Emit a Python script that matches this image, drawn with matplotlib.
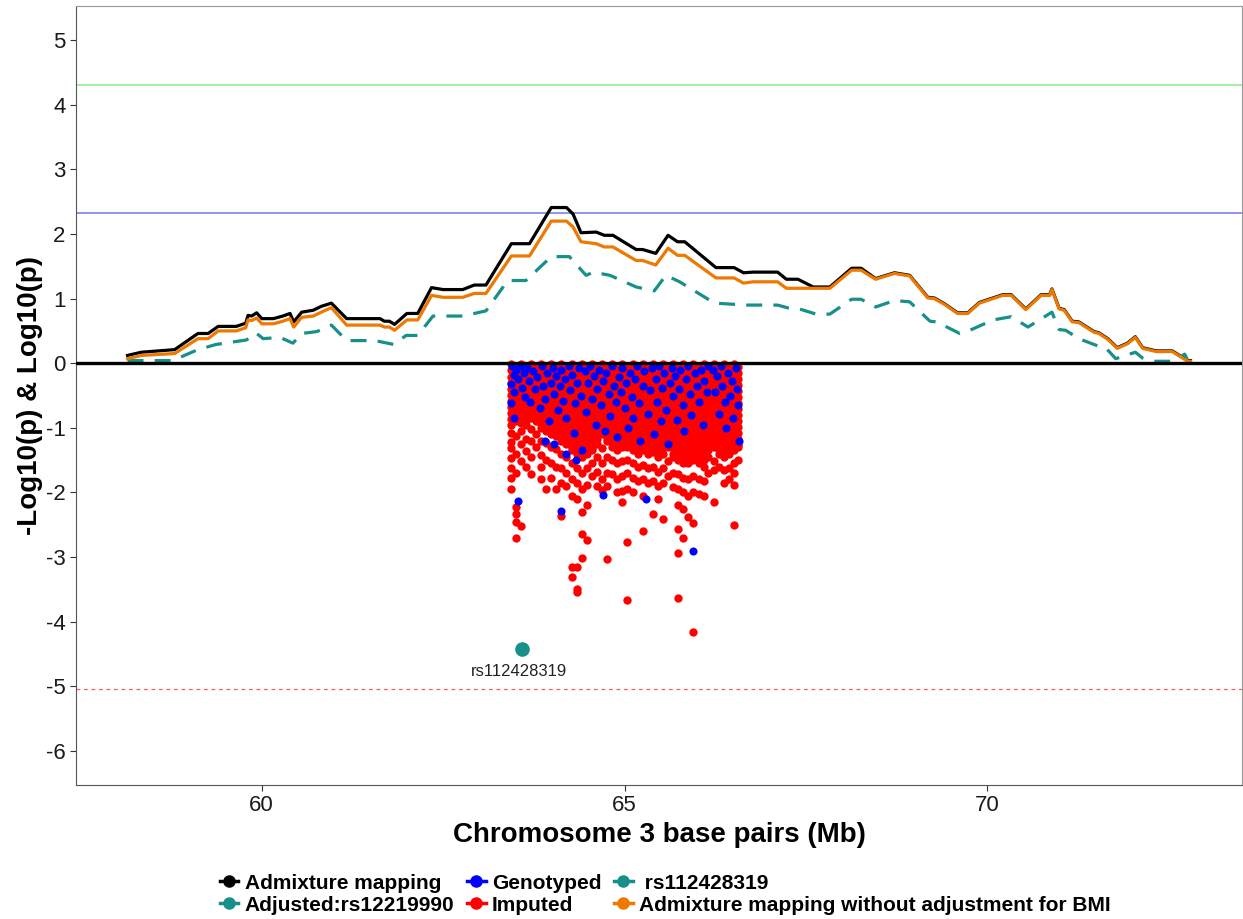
import matplotlib
matplotlib.use("Agg")
import matplotlib.pyplot as plt
from matplotlib.lines import Line2D

plt.rcParams['font.family'] = ['Liberation Sans', 'DejaVu Sans']
plt.rcParams['axes.unicode_minus'] = False

# admixture mapping curves (Mb, -log10 p)
adm_x = [58.15, 58.34, 58.80, 59.12, 59.26, 59.40, 59.65, 59.78, 59.81, 59.86, 59.93, 60.00,
         60.16, 60.29, 60.39, 60.44, 60.55, 60.71, 60.82, 60.96, 61.17, 61.63, 61.69, 61.76,
         61.83, 62.00, 62.15, 62.34, 62.50, 62.77, 62.93, 63.09, 63.44, 63.69, 63.99, 64.20,
         64.29, 64.40, 64.61, 64.72, 64.84, 65.16, 65.25, 65.43, 65.60, 65.73, 65.83, 66.26,
         66.51, 66.64, 66.77, 67.11, 67.23, 67.39, 67.60, 67.83, 68.13, 68.26, 68.46, 68.72,
         68.93, 69.18, 69.27, 69.41, 69.59, 69.73, 69.89, 70.21, 70.33, 70.53, 70.74, 70.86,
         70.89, 70.99, 71.06, 71.17, 71.26, 71.47, 71.54, 71.66, 71.79, 71.93, 72.04, 72.14,
         72.33, 72.55, 72.76, 72.80]
adm_y = [0.12, 0.17, 0.21, 0.46, 0.46, 0.57, 0.57, 0.62, 0.74, 0.73, 0.78, 0.69,
         0.69, 0.73, 0.77, 0.64, 0.79, 0.82, 0.88, 0.93, 0.69, 0.69, 0.65, 0.65,
         0.60, 0.77, 0.77, 1.17, 1.14, 1.14, 1.21, 1.21, 1.85, 1.85, 2.41, 2.41,
         2.31, 2.02, 2.03, 1.98, 1.98, 1.76, 1.76, 1.70, 1.98, 1.88, 1.88, 1.48,
         1.48, 1.40, 1.41, 1.41, 1.30, 1.30, 1.18, 1.18, 1.47, 1.47, 1.31, 1.40,
         1.36, 1.02, 1.01, 0.92, 0.78, 0.78, 0.94, 1.06, 1.06, 0.84, 1.06, 1.06,
         1.15, 0.85, 0.83, 0.65, 0.64, 0.49, 0.47, 0.38, 0.24, 0.31, 0.41, 0.24,
         0.19, 0.19, 0.04, 0.04]
nobmi_y = [0.07, 0.12, 0.15, 0.38, 0.38, 0.50, 0.50, 0.55, 0.67, 0.66, 0.70, 0.61,
           0.61, 0.65, 0.69, 0.56, 0.71, 0.73, 0.79, 0.86, 0.59, 0.59, 0.56, 0.56,
           0.51, 0.67, 0.67, 1.05, 1.02, 1.02, 1.08, 1.08, 1.66, 1.66, 2.20, 2.20,
           2.11, 1.88, 1.85, 1.80, 1.80, 1.59, 1.59, 1.52, 1.78, 1.67, 1.67, 1.32,
           1.32, 1.24, 1.26, 1.26, 1.16, 1.16, 1.16, 1.16, 1.44, 1.44, 1.30, 1.39,
           1.35, 1.01, 1.00, 0.91, 0.77, 0.77, 0.93, 1.05, 1.05, 0.83, 1.05, 1.05,
           1.14, 0.84, 0.82, 0.64, 0.63, 0.48, 0.46, 0.37, 0.23, 0.30, 0.40, 0.23,
           0.18, 0.18, 0.03, 0.03]

adj_x = [58.15, 58.77, 59.12, 59.37, 59.79, 59.92, 60.02, 60.25, 60.43, 60.55, 60.76, 60.96,
         61.17, 61.56, 61.82, 61.99, 62.15, 62.36, 62.77, 63.09, 63.39, 63.64, 63.99, 64.24,
         64.47, 64.57, 64.80, 65.16, 65.41, 65.57, 65.76, 66.24, 66.68, 67.11, 67.27, 67.41,
         67.64, 67.83, 68.13, 68.26, 68.46, 68.72, 68.93, 69.21, 69.30, 69.62, 69.76, 70.08,
         70.33, 70.56, 70.89, 70.99, 71.08, 71.26, 71.54, 71.63, 71.77, 71.88, 72.04, 72.14,
         72.30, 72.55, 72.72, 72.76]
adj_y = [0.04, 0.04, 0.21, 0.29, 0.36, 0.47, 0.38, 0.40, 0.31, 0.46, 0.49, 0.59,
         0.35, 0.35, 0.29, 0.43, 0.43, 0.73, 0.73, 0.81, 1.28, 1.28, 1.65, 1.65,
         1.36, 1.41, 1.36, 1.18, 1.12, 1.36, 1.26, 0.93, 0.90, 0.90, 0.85, 0.84,
         0.76, 0.76, 0.99, 0.99, 0.87, 0.97, 0.95, 0.65, 0.64, 0.46, 0.51, 0.67,
         0.72, 0.56, 0.79, 0.52, 0.51, 0.38, 0.26, 0.24, 0.07, 0.11, 0.17, 0.08,
         0.03, 0.03, 0.14, 0.05]

# imputed SNPs (log10 p), grouped by position column
imp_x = [63.44, 63.50, 63.57, 63.64, 63.71, 63.78, 63.85, 63.92, 63.99, 64.06, 64.13, 64.20,
         64.27, 64.34, 64.41, 64.48, 64.55, 64.62, 64.69, 64.76, 64.83, 64.90, 64.97, 65.04,
         65.11, 65.18, 65.25, 65.32, 65.39, 65.46, 65.53, 65.60, 65.67, 65.74, 65.81, 65.88,
         65.95, 66.02, 66.09, 66.15, 66.23, 66.30, 66.37, 66.44, 66.51, 66.57]
imp_y = [
    [-0.02, -0.11, -0.21, -0.30, -0.40, -0.49, -0.58, -0.68, -0.77, -0.87, -0.95, -1.08, -1.22, -1.31, -1.47, -1.63, -1.78, -1.94],
    [-0.06, -0.15, -0.25, -0.34, -0.44, -0.53, -0.62, -0.72, -0.81, -0.90, -1.12, -1.40, -1.70, -2.22, -2.34, -2.46, -2.70],
    [-0.01, -0.10, -0.20, -0.29, -0.39, -0.48, -0.57, -0.67, -0.76, -0.85, -0.92, -1.05, -1.25, -1.52, -2.52],
    [-0.05, -0.14, -0.24, -0.33, -0.43, -0.52, -0.61, -0.71, -0.80, -0.89, -0.96, -1.18, -1.36, -1.60],
    [-0.02, -0.11, -0.21, -0.30, -0.39, -0.49, -0.58, -0.67, -0.77, -0.85, -1.02, -1.21, -1.45, -1.72],
    [-0.06, -0.15, -0.25, -0.34, -0.43, -0.53, -0.62, -0.71, -0.81, -0.90, -1.10, -1.30],
    [-0.02, -0.11, -0.20, -0.30, -0.39, -0.48, -0.58, -0.67, -0.76, -0.86, -0.94, -1.01, -1.20, -1.42, -1.61, -1.80],
    [-0.06, -0.15, -0.24, -0.34, -0.43, -0.52, -0.62, -0.71, -0.80, -0.89, -0.98, -1.05, -1.24, -1.50, -1.94],
    [-0.02, -0.11, -0.20, -0.29, -0.39, -0.48, -0.57, -0.66, -0.76, -0.85, -0.94, -1.03, -1.10, -1.30, -1.55, -1.77],
    [-0.06, -0.15, -0.24, -0.33, -0.43, -0.52, -0.61, -0.70, -0.80, -0.89, -0.98, -1.07, -1.12, -1.33, -1.60, -1.94],
    [-0.02, -0.11, -0.20, -0.30, -0.39, -0.48, -0.57, -0.67, -0.76, -0.85, -0.94, -1.04, -1.13, -1.20, -1.41, -1.62, -1.85, -2.36],
    [-0.06, -0.15, -0.25, -0.34, -0.43, -0.52, -0.62, -0.71, -0.80, -0.89, -0.99, -1.08, -1.17, -1.25, -1.45, -1.70, -1.90],
    [-0.02, -0.11, -0.20, -0.30, -0.39, -0.48, -0.57, -0.67, -0.76, -0.85, -0.94, -1.04, -1.13, -1.22, -1.31, -1.35, -1.55, -1.80, -2.05, -3.15, -3.31],
    [-0.06, -0.15, -0.24, -0.34, -0.43, -0.52, -0.61, -0.71, -0.80, -0.89, -0.98, -1.08, -1.17, -1.26, -1.35, -1.40, -1.62, -1.85, -2.10, -3.15, -3.49, -3.54],
    [-0.02, -0.11, -0.21, -0.30, -0.39, -0.48, -0.58, -0.67, -0.76, -0.85, -0.95, -1.04, -1.13, -1.22, -1.32, -1.41, -1.45, -1.70, -1.95, -2.30, -2.65, -3.02],
    [-0.06, -0.15, -0.25, -0.34, -0.43, -0.52, -0.62, -0.71, -0.80, -0.89, -0.99, -1.08, -1.17, -1.26, -1.35, -1.40, -1.62, -1.88, -2.20, -2.73],
    [-0.02, -0.11, -0.20, -0.29, -0.39, -0.48, -0.57, -0.66, -0.76, -0.85, -0.94, -1.03, -1.13, -1.22, -1.31, -1.35, -1.55, -1.75],
    [-0.06, -0.15, -0.24, -0.33, -0.43, -0.52, -0.61, -0.70, -0.80, -0.89, -0.98, -1.07, -1.17, -1.25, -1.45, -1.68, -1.90],
    [-0.02, -0.11, -0.20, -0.30, -0.39, -0.48, -0.57, -0.67, -0.76, -0.85, -0.94, -1.04, -1.10, -1.32, -1.55, -1.80, -1.97],
    [-0.06, -0.15, -0.25, -0.34, -0.43, -0.52, -0.62, -0.71, -0.80, -0.89, -0.99, -1.08, -1.17, -1.20, -1.45, -1.70, -1.90, -3.03],
    [-0.02, -0.11, -0.20, -0.30, -0.39, -0.48, -0.57, -0.67, -0.76, -0.85, -0.94, -1.04, -1.13, -1.22, -1.30, -1.50, -1.72],
    [-0.06, -0.15, -0.24, -0.34, -0.43, -0.52, -0.61, -0.71, -0.80, -0.89, -0.98, -1.08, -1.17, -1.26, -1.35, -1.55, -1.80, -2.00],
    [-0.02, -0.11, -0.21, -0.30, -0.39, -0.48, -0.58, -0.67, -0.76, -0.85, -0.95, -1.04, -1.13, -1.22, -1.30, -1.52, -1.75, -1.98, -2.15],
    [-0.06, -0.15, -0.25, -0.34, -0.43, -0.52, -0.62, -0.71, -0.80, -0.89, -0.99, -1.08, -1.17, -1.26, -1.30, -1.50, -1.70, -1.95, -2.77, -3.67],
    [-0.02, -0.11, -0.20, -0.29, -0.39, -0.48, -0.57, -0.66, -0.76, -0.85, -0.94, -1.03, -1.13, -1.22, -1.31, -1.35, -1.55, -1.78, -2.00],
    [-0.06, -0.15, -0.24, -0.33, -0.43, -0.52, -0.61, -0.70, -0.80, -0.89, -0.98, -1.07, -1.17, -1.26, -1.35, -1.40, -1.60, -1.82],
    [-0.02, -0.11, -0.20, -0.30, -0.39, -0.48, -0.57, -0.67, -0.76, -0.85, -0.94, -1.04, -1.13, -1.22, -1.31, -1.35, -1.58, -1.80, -2.05, -2.59],
    [-0.06, -0.15, -0.25, -0.34, -0.43, -0.52, -0.62, -0.71, -0.80, -0.89, -0.99, -1.08, -1.17, -1.26, -1.35, -1.40, -1.62, -1.85],
    [-0.02, -0.11, -0.20, -0.30, -0.39, -0.48, -0.57, -0.67, -0.76, -0.85, -0.94, -1.04, -1.13, -1.22, -1.31, -1.38, -1.60, -1.82, -2.34],
    [-0.06, -0.15, -0.24, -0.34, -0.43, -0.52, -0.61, -0.71, -0.80, -0.89, -0.98, -1.08, -1.17, -1.26, -1.35, -1.45, -1.68, -1.90, -2.10],
    [-0.02, -0.11, -0.21, -0.30, -0.39, -0.48, -0.58, -0.67, -0.76, -0.85, -0.95, -1.04, -1.13, -1.22, -1.32, -1.40, -1.62, -1.85, -2.41],
    [-0.06, -0.15, -0.25, -0.34, -0.43, -0.52, -0.62, -0.71, -0.80, -0.89, -0.99, -1.08, -1.17, -1.26, -1.30, -1.52, -1.75],
    [-0.02, -0.11, -0.20, -0.29, -0.39, -0.48, -0.57, -0.66, -0.76, -0.85, -0.94, -1.03, -1.13, -1.22, -1.31, -1.40, -1.45, -1.70, -1.92],
    [-0.06, -0.15, -0.24, -0.33, -0.43, -0.52, -0.61, -0.70, -0.80, -0.89, -0.98, -1.07, -1.17, -1.26, -1.35, -1.44, -1.50, -1.72, -1.95, -2.20, -2.56, -2.94, -3.63],
    [-0.02, -0.11, -0.20, -0.30, -0.39, -0.48, -0.57, -0.67, -0.76, -0.85, -0.94, -1.04, -1.13, -1.22, -1.31, -1.41, -1.50, -1.55, -1.78, -2.00, -2.25, -2.70],
    [-0.06, -0.15, -0.25, -0.34, -0.43, -0.52, -0.62, -0.71, -0.80, -0.89, -0.99, -1.08, -1.17, -1.26, -1.35, -1.45, -1.55, -1.80, -2.05, -2.38],
    [-0.02, -0.11, -0.20, -0.30, -0.39, -0.48, -0.57, -0.67, -0.76, -0.85, -0.94, -1.04, -1.13, -1.22, -1.31, -1.41, -1.50, -1.75, -2.00, -2.48, -4.16],
    [-0.06, -0.15, -0.24, -0.34, -0.43, -0.52, -0.61, -0.71, -0.80, -0.89, -0.98, -1.08, -1.17, -1.26, -1.35, -1.45, -1.55, -1.80, -2.02],
    [-0.02, -0.11, -0.21, -0.30, -0.39, -0.48, -0.58, -0.67, -0.76, -0.85, -0.95, -1.04, -1.13, -1.22, -1.32, -1.41, -1.50, -1.60, -1.82, -2.05],
    [-0.06, -0.15, -0.25, -0.34, -0.43, -0.52, -0.62, -0.71, -0.80, -0.89, -0.99, -1.08, -1.17, -1.26, -1.35, -1.45, -1.70],
    [-0.02, -0.11, -0.20, -0.29, -0.39, -0.48, -0.57, -0.66, -0.76, -0.85, -0.94, -1.03, -1.13, -1.22, -1.30, -1.52, -1.66, -2.15],
    [-0.06, -0.15, -0.24, -0.33, -0.43, -0.52, -0.61, -0.70, -0.80, -0.89, -0.98, -1.07, -1.17, -1.26, -1.35, -1.40, -1.60],
    [-0.02, -0.11, -0.20, -0.30, -0.39, -0.48, -0.57, -0.67, -0.76, -0.85, -0.94, -1.04, -1.13, -1.22, -1.31, -1.41, -1.45, -1.65, -1.85],
    [-0.06, -0.15, -0.25, -0.34, -0.43, -0.52, -0.62, -0.71, -0.80, -0.89, -0.99, -1.08, -1.17, -1.26, -1.35, -1.40, -1.62, -1.80],
    [-0.02, -0.11, -0.20, -0.30, -0.39, -0.48, -0.57, -0.67, -0.76, -0.85, -0.94, -1.04, -1.13, -1.22, -1.31, -1.35, -1.55, -1.70, -1.89, -2.51],
    [-0.06, -0.15, -0.24, -0.34, -0.43, -0.52, -0.61, -0.71, -0.80, -0.89, -0.98, -1.08, -1.17, -1.26, -1.30, -1.50],
]

# genotyped SNPs
geno_x = [63.45, 63.47, 63.44, 63.50, 63.53, 63.48, 63.44, 63.56, 63.58, 63.61, 63.63, 63.66,
          63.68, 63.70, 63.47, 63.53, 63.74, 63.77, 63.80, 63.83, 63.86, 63.88, 63.91, 63.93,
          63.96, 63.98, 64.01, 64.03, 64.06, 64.08, 64.11, 64.13, 64.15, 64.18, 64.20, 64.23,
          64.25, 64.28, 64.30, 64.32, 64.35, 64.37, 64.40, 64.42, 64.13, 64.03, 63.90, 64.33,
          64.20, 64.45, 64.47, 64.50, 64.52, 64.55, 64.58, 64.60, 64.62, 64.65, 64.68, 64.70,
          64.71, 64.73, 64.75, 64.78, 64.80, 64.83, 64.85, 64.88, 64.90, 64.92, 64.95, 64.97,
          65.00, 65.02, 65.05, 65.07, 65.10, 65.12, 65.15, 65.17, 65.20, 65.22, 65.25, 65.27,
          65.30, 65.32, 65.35, 65.38, 65.40, 65.43, 65.45, 65.48, 65.50, 65.52, 65.55, 65.57,
          65.60, 65.62, 65.65, 65.67, 65.70, 65.72, 65.75, 65.77, 65.80, 65.82, 65.85, 65.87,
          65.90, 65.92, 65.95, 65.97, 66.00, 66.02, 66.05, 66.08, 66.10, 66.13, 66.15, 66.22,
          66.25, 66.28, 66.30, 66.33, 66.35, 66.38, 66.40, 66.43, 66.45, 66.48, 66.50, 66.53,
          66.55, 66.57, 66.58]
geno_y = [-0.05, -0.18, -0.32, -0.10, -0.25, -0.45, -0.62, -0.05, -0.38, -0.15, -0.52, -0.08,
          -0.28, -0.60, -0.85, -2.13, -0.12, -0.40, -0.22, -0.70, -0.05, -0.35, -0.55, -0.15,
          -0.90, -0.30, -0.08, -0.48, -0.20, -0.72, -0.35, -0.10, -0.58, -0.25, -0.85, -0.05,
          -0.42, -0.18, -1.08, -0.62, -0.30, -0.08, -0.50, -1.35, -2.29, -1.25, -1.20, -1.50,
          -1.40, -0.12, -0.75, -0.30, -0.05, -0.55, -0.20, -0.95, -0.40, -0.10, -0.65, -0.28,
          -2.04, -1.05, -0.15, -0.48, -0.82, -0.05, -0.35, -0.60, -1.15, -0.22, -0.45, -0.08,
          -0.70, -0.30, -1.00, -0.15, -0.52, -0.85, -0.25, -0.05, -0.62, -1.20, -0.35, -0.12,
          -2.11, -0.78, -0.42, -0.08, -1.10, -0.25, -0.60, -0.05, -0.90, -0.38, -0.15, -0.72,
          -1.25, -0.30, -0.08, -0.50, -0.20, -0.88, -0.40, -0.10, -0.65, -1.05, -0.25, -0.05,
          -0.48, -0.80, -2.91, -0.15, -0.35, -0.60, -0.10, -0.95, -0.28, -0.45, -0.05, -0.10,
          -0.45, -0.20, -0.78, -0.05, -0.35, -0.60, -1.00, -0.15, -0.50, -0.28, -0.85, -0.08,
          -0.40, -0.65, -1.20]

lead_snp = "rs112428319"
lead_x, lead_y = 63.59, -4.42
green_line, blue_line, red_line = 4.31, 2.32, -5.05

teal = "#179089"
orange = "#EE7800"

fig = plt.figure(figsize=(12.43, 9.19), dpi=100)
ax = fig.add_axes([76 / 1243, 1 - 785 / 919, 1166 / 1243, 779 / 919])

ax.axhline(green_line, color="#90EE90", lw=1.2, zorder=1)
ax.axhline(blue_line, color="#7F7FEF", lw=1.2, zorder=1)
ax.axhline(red_line, color="#F06060", lw=0.9, ls=(0, (3, 3)), zorder=1)

ax.plot(adm_x, adm_y, color="black", lw=2.3, zorder=3)
ax.plot(adj_x, adj_y, color=teal, lw=2.3, ls=(0, (5, 3.5)), zorder=3)
ax.plot(adm_x, nobmi_y, color=orange, lw=2.3, zorder=3)

ix, iy = [], []
for x, ys in zip(imp_x, imp_y):
    ix += [x] * len(ys)
    iy += ys
ax.scatter(ix, iy, s=36, color="#FF0000", linewidths=0, zorder=2)
ax.scatter(geno_x, geno_y, s=34, color="#0000FF", linewidths=0, zorder=2.5)
ax.scatter([lead_x], [lead_y], s=110, color=teal, linewidths=0, zorder=2.5)
ax.text(lead_x - 0.05, lead_y - 0.36, lead_snp, ha="center", va="center",
        fontsize=12, color="#222222")

ax.axhline(0, color="black", lw=2.4, zorder=4)

ax.set_xlim(57.44, 73.51)
ax.set_ylim(-6.53, 5.53)
ax.set_xticks([60, 65, 70])
ax.set_yticks(range(-6, 6))
ax.tick_params(labelsize=16, colors="#333333", labelcolor="#1a1a1a", length=4, width=0.8)
for s in ["left", "bottom"]:
    ax.spines[s].set_color("#555555")
for s in ["top", "right"]:
    ax.spines[s].set_color("#999999")
ax.set_xlabel("Chromosome 3 base pairs (Mb)", fontsize=20, fontweight="bold", labelpad=4)
ax.set_ylabel("-Log10(p) & Log10(p)", fontsize=20, fontweight="bold", labelpad=2)

handles = [
    Line2D([0], [0], color="black", marker="o", ms=8, lw=2.5),
    Line2D([0], [0], color=teal, marker="o", ms=8, lw=2.5),
    Line2D([0], [0], color="#0000FF", marker="o", ms=8, lw=2.5),
    Line2D([0], [0], color="#FF0000", marker="o", ms=8, lw=2.5),
    Line2D([0], [0], color=teal, marker="o", ms=8, lw=2.5),
    Line2D([0], [0], color=orange, marker="o", ms=8, lw=2.5),
]
labels = ["Admixture mapping", "Adjusted:rs12219990", "Genotyped", "Imputed",
          " rs112428319", "Admixture mapping without adjustment for BMI"]
fig.legend(handles, labels, ncol=3, loc="center", bbox_to_anchor=(0.535, 0.027),
           frameon=False, prop={"weight": "bold", "size": 15}, handlelength=0.9,
           handletextpad=0.3, columnspacing=0.6, labelspacing=0.15)

fig.savefig("out.png", dpi=100)
